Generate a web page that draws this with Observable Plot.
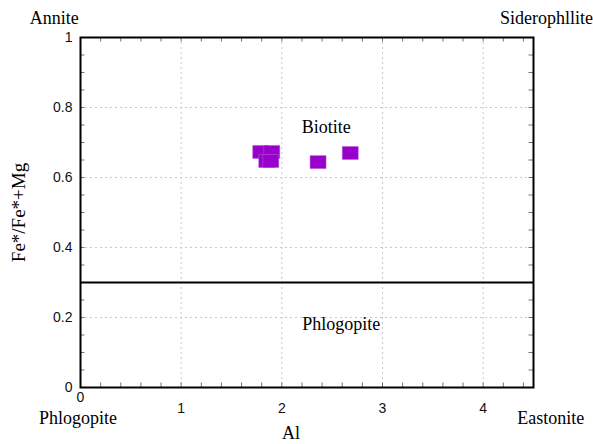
<!DOCTYPE html>
<html>
<head>
<meta charset="utf-8">
<script src="https://cdn.jsdelivr.net/npm/d3@7"></script>
<script src="https://cdn.jsdelivr.net/npm/@observablehq/plot@0.6"></script>
<style>
  html, body { margin: 0; padding: 0; background: #fff; }
</style>
</head>
<body>
<div id="chart"></div>
<script>
// Data points (Al, Fe*/(Fe*+Mg))
const alValues = [1.79, 1.90, 1.85, 1.89, 2.36, 2.68];
const feValues = [0.673, 0.673, 0.647, 0.647, 0.644, 0.670];

// Axis ticks
const xMajorTicks = [1, 2, 3, 4];
const xMinorTicks = [0.2,0.4,0.6,0.8,1,1.2,1.4,1.6,1.8,2,2.2,2.4,2.6,2.8,3,3.2,3.4,3.6,3.8,4,4.2,4.4];
const yMajorTicks = [0.2, 0.4, 0.6, 0.8];
const yTickLabels = [0, 0.2, 0.4, 0.6, 0.8, 1];
const yMinorTicks = [0.05,0.1,0.15,0.2,0.25,0.3,0.35,0.4,0.45,0.5,0.55,0.6,0.65,0.7,0.75,0.8,0.85,0.9,0.95];

// Boundary between Biotite and Phlogopite
const boundary = [0.3];

// Field labels inside the plot
const fieldNames = ["Biotite", "Phlogopite"];
const fieldX = [2.44, 2.59];
const fieldY = [0.744, 0.18];

// End-member labels around the diagram
const memberNames = ["Annite", "Siderophllite", "Phlogopite", "Eastonite"];
const memberX = [-0.26, 4.63, -0.025, 4.672];
const memberY = [1.056, 1.054, -0.089, -0.089];

const points = alValues.map((a, i) => ({al: a, fe: feValues[i]}));
const fields = fieldNames.map((n, i) => ({name: n, x: fieldX[i], y: fieldY[i]}));
const members = memberNames.map((n, i) => ({name: n, x: memberX[i], y: memberY[i]}));

const rectSymbol = {
  draw(context) {
    context.moveTo(-8, -6.5);
    context.lineTo(8, -6.5);
    context.lineTo(8, 6.5);
    context.lineTo(-8, 6.5);
    context.closePath();
  }
};

const serif = "'Liberation Serif', 'Times New Roman', serif";
const sans = "'Liberation Sans', Arial, sans-serif";
const gridColor = "#c4c8d8";

const chart = Plot.plot({
  width: 593,
  height: 444,
  marginLeft: 80,
  marginRight: 60,
  marginTop: 37,
  marginBottom: 57,
  x: {domain: [0, 4.5], axis: null},
  y: {domain: [0, 1], axis: null},
  style: {background: "#fff", overflow: "visible"},
  marks: [
    // dotted grid
    Plot.ruleX(xMajorTicks, {stroke: gridColor, strokeWidth: 1, strokeDasharray: "2,3"}),
    Plot.ruleY(yMajorTicks, {stroke: gridColor, strokeWidth: 1, strokeDasharray: "2,3"}),
    // inward minor ticks
    Plot.ruleX(xMinorTicks, {y1: 0, y2: 0.013, stroke: "#777", strokeWidth: 1}),
    Plot.ruleX(xMinorTicks, {y1: 1, y2: 0.987, stroke: "#777", strokeWidth: 1}),
    Plot.ruleY(yMinorTicks, {x1: 0, x2: 0.045, stroke: "#777", strokeWidth: 1}),
    Plot.ruleY(yMinorTicks, {x1: 4.5, x2: 4.455, stroke: "#777", strokeWidth: 1}),
    // boundary line
    Plot.ruleY(boundary, {stroke: "#000", strokeWidth: 2}),
    // frame
    Plot.frame({stroke: "#000", strokeWidth: 2}),
    // tick labels
    Plot.text(xMajorTicks, {x: d => d, y: 0, dy: 21, text: d => String(d), fontFamily: sans, fontSize: 14, fill: "#111"}),
    Plot.text([0], {x: d => d, y: 0, dy: 10, text: d => String(d), fontFamily: sans, fontSize: 14, fill: "#111"}),
    Plot.text(yTickLabels, {x: 0, y: d => d, dx: -8, textAnchor: "end", text: d => String(d), fontFamily: sans, fontSize: 14, fill: "#111"}),
    // data
    Plot.dot(points, {x: "al", y: "fe", symbol: rectSymbol, r: 8, fill: "#9900cc", stroke: "#b060d8", strokeWidth: 0.5}),
    // field labels
    Plot.text(fields, {x: "x", y: "y", text: "name", fontFamily: serif, fontSize: 18, fill: "#000"}),
    // end-member labels
    Plot.text(members, {x: "x", y: "y", text: "name", fontFamily: serif, fontSize: 18, fill: "#000"}),
    // axis titles
    Plot.text(["Al"], {x: 2.09, y: -0.13, text: d => d, fontFamily: serif, fontSize: 18, fill: "#000"}),
    Plot.text(["Fe*/Fe*+Mg"], {x: -0.616, y: 0.5, rotate: -90, text: d => d, fontFamily: serif, fontSize: 19, fill: "#000"})
  ]
});

document.getElementById("chart").appendChild(chart);
</script>
</body>
</html>
